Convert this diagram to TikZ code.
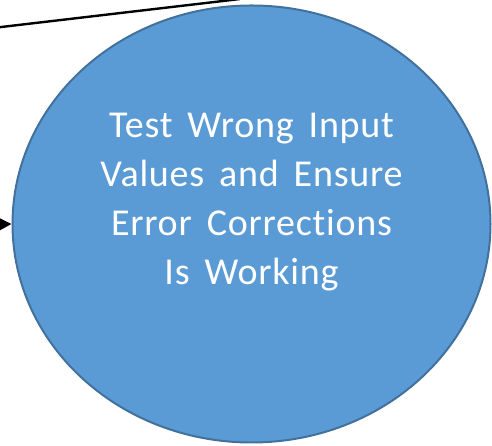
\documentclass[tikz,border=0pt]{standalone}
\usepackage{fontspec}
\setmainfont{Carlito}
\newfontfamily\bubblefont{Carlito}[WordSpace=1.6, LetterSpace=2, RawFeature=-liga]
\usetikzlibrary{shapes.geometric,arrows.meta}
\definecolor{fillblue}{HTML}{5B9BD5}
\definecolor{edgeblue}{HTML}{41719C}
\tikzset{
  bubble/.style={ellipse, draw=edgeblue, line width=2pt, fill=fillblue, inner sep=0pt},
  bubbletext/.style={text=white, align=center, font=\bubblefont\fontsize{38}{49}\selectfont},
  conn/.style={black, line width=2.4pt},
}
\begin{document}
\begin{tikzpicture}[x=1pt,y=1pt]
\useasboundingbox (0,0) rectangle (492,446);
\coordinate (lineA) at (-20,416.5);
\coordinate (lineB) at (240,447);
\coordinate (arrowfrom) at (-40,221);
\draw[conn] (lineA) -- (lineB);
\node[bubble, minimum width=478pt, minimum height=437pt] (e) at (251.5,222) {};
\node[bubbletext] (t) at ([yshift=22]e.center) {Test Wrong Input\\Values and Ensure\\Error Corrections\\Is Working};
\draw[conn, -{Triangle[length=14pt,width=14pt]}] (arrowfrom) -- (e.west);
\end{tikzpicture}
\end{document}
